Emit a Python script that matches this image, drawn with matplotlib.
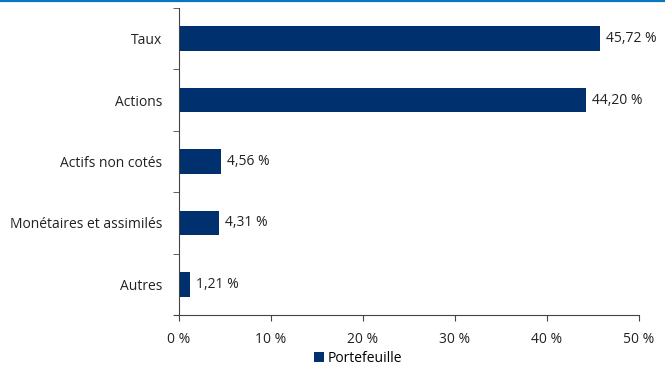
from matplotlib import pyplot as plt
from matplotlib.ticker import FixedLocator, FuncFormatter
import numpy as np

categories = ['Taux', 'Actions', 'Actifs non cotés', 'Monétaires et assimilés', 'Autres']
values = [45.72, 44.20, 4.56, 4.31, 1.21]
labels = ['45,72 %', '44,20 %', '4,56 %', '4,31 %', '1,21 %']
series_name = 'Portefeuille'

bar_color = '#00306e'
plt.rc('font', family=['Open Sans', 'DejaVu Sans'], size=10)

fig = plt.figure(figsize=(6.65, 3.71), dpi=100)
ax = fig.add_axes([179 / 665, 1 - 315 / 371, 460 / 665, 307 / 371])

# trait bleu en haut
fig.add_artist(plt.Line2D([0, 1], [1 - 0.8 / 371, 1 - 0.8 / 371], color='#0a77bd', linewidth=1.6))

y = np.arange(len(categories))
ax.barh(y, values, height=0.4, color=bar_color, label=series_name)
for yi, v, lab in zip(y, values, labels):
    ax.text(v + 0.65, yi, lab, va='center', ha='left', color='#222222')

ax.set_ylim(len(categories) - 0.5, -0.5)
ax.set_xlim(0, 50)
ax.set_yticks(y)
ax.set_yticklabels(categories)
ax.yaxis.set_minor_locator(FixedLocator(np.arange(-0.5, len(categories), 1)))
ax.tick_params(axis='y', which='major', length=0, pad=12, labelcolor='#222222')
ax.tick_params(axis='y', which='minor', length=4, color='#444444')
ax.set_xticks(np.arange(0, 51, 10))
ax.xaxis.set_major_formatter(FuncFormatter(lambda v, p: f'{v:.0f} %'))
ax.tick_params(axis='x', length=4, color='#444444', pad=8, labelcolor='#222222')

for s in ['top', 'right']:
    ax.spines[s].set_visible(False)
for s in ['left', 'bottom']:
    ax.spines[s].set_color('#444444')
    ax.spines[s].set_linewidth(0.8)
ax.spines['bottom'].set_bounds(-0.5, 50)

ax.legend(loc='upper center', bbox_to_anchor=(0.39, -0.085), frameon=False,
          handlelength=0.7, handleheight=0.7, handletextpad=0.3, borderpad=0.2)

plt.savefig('out.png', dpi=100)
